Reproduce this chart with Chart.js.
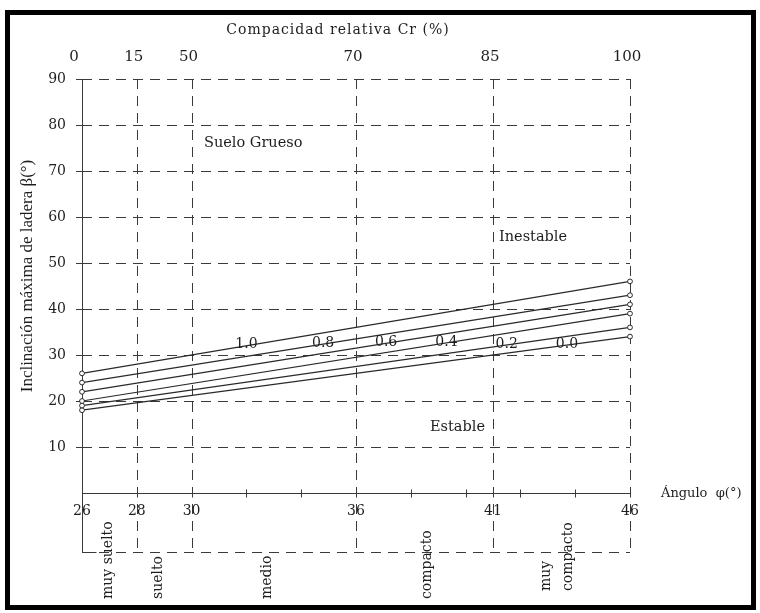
<!DOCTYPE html>
<html>
<head>
<meta charset="utf-8">
<script src="https://cdn.jsdelivr.net/npm/chart.js@4/dist/chart.umd.min.js"></script>
<style>
  body { margin: 0; background: #fff; }
  canvas { display: block; }
</style>
</head>
<body>
<canvas id="laderaChart" width="760" height="613"></canvas>
<script>
// friction angle phi (deg) on the x axis, slope beta (deg) on the y axis
const phiMin = 26;
const phiMax = 46;
const betaMin = 0;
const betaMax = 90;

// one line per relative density label, beta read at phi = 26 and phi = 46
const densityLabels = ["1.0", "0.8", "0.6", "0.4", "0.2", "0.0"];
const betaAt26 = [26, 24, 22, 20, 19, 18];
const betaAt46 = [46, 43, 41, 39, 36, 34];
const labelPhi = [32, 34.8, 37.1, 39.3, 41.5, 43.7];

// axis ticks
const phiTicks = [26, 28, 30, 36, 41, 46];
const phiMinorTicks = [32, 34, 38, 40, 42, 44];
const crTicks = ["0", "15", "50", "70", "85", "100"];
const betaTicks = [10, 20, 30, 40, 50, 60, 70, 80, 90];

// soil state bands under the phi axis
const stateNames = [["muy suelto"], ["suelto"], ["medio"], ["compacto"], ["muy", "compacto"]];
const statePhi = [26.95, 28.8, 32.75, 38.6, 43.35];

const FONT = "DejaVu Serif";
const INK = "#1e1e1e";

const datasets = densityLabels.map((lbl, i) => ({
  label: lbl,
  data: [{ x: phiMin, y: betaAt26[i] }, { x: phiMax, y: betaAt46[i] }],
  borderColor: "#2a2a2a",
  borderWidth: 1.2,
  pointRadius: 2.4,
  pointBackgroundColor: "#fff",
  pointBorderColor: "#2a2a2a",
  pointBorderWidth: 1,
  clip: false
}));

function dashedLine(ctx, x1, y1, x2, y2) {
  ctx.save();
  ctx.setLineDash([10, 7]);
  ctx.beginPath();
  ctx.moveTo(x1, y1);
  ctx.lineTo(x2, y2);
  ctx.stroke();
  ctx.restore();
}

const frameAndAxes = {
  id: "frameAndAxes",
  beforeDraw(chart) {
    const ctx = chart.ctx;
    ctx.save();
    ctx.fillStyle = "#fff";
    ctx.fillRect(0, 0, chart.width, chart.height);
    ctx.restore();
  },
  beforeDatasetsDraw(chart) {
    const { ctx, scales: { x, y } } = chart;
    const left = x.getPixelForValue(phiMin);
    const right = x.getPixelForValue(phiMax);
    const top = y.getPixelForValue(betaMax);
    const bottom = y.getPixelForValue(betaMin);
    const bandBottom = bottom + 59;

    ctx.save();
    ctx.strokeStyle = "#3a3a3a";
    ctx.lineWidth = 1;

    // horizontal dashed grid
    betaTicks.forEach(v => {
      const py = Math.round(y.getPixelForValue(v)) + 0.5;
      dashedLine(ctx, left, py, right, py);
    });
    dashedLine(ctx, left, bandBottom + 0.5, right, bandBottom + 0.5);

    // vertical dashed lines through the state bands
    phiTicks.slice(1).forEach(v => {
      const px = Math.round(x.getPixelForValue(v)) + 0.5;
      dashedLine(ctx, px, top, px, bandBottom);
    });

    // solid axes
    ctx.beginPath();
    const lx = Math.round(left) + 0.5;
    ctx.moveTo(lx, top);
    ctx.lineTo(lx, bandBottom + 0.5);
    ctx.lineTo(lx + 14, bandBottom + 0.5);
    const by = Math.round(bottom) + 0.5;
    ctx.moveTo(left, by);
    ctx.lineTo(right, by);
    ctx.stroke();

    // y tick marks
    ctx.beginPath();
    betaTicks.forEach(v => {
      const py = Math.round(y.getPixelForValue(v)) + 0.5;
      ctx.moveTo(left - 6, py);
      ctx.lineTo(left + 6, py);
    });
    // x tick marks
    phiTicks.concat(phiMinorTicks).forEach(v => {
      const px = Math.round(x.getPixelForValue(v)) + 0.5;
      ctx.moveTo(px, by - 4);
      ctx.lineTo(px, by + 4);
    });
    ctx.stroke();
    ctx.restore();

    // tick labels
    ctx.save();
    ctx.fillStyle = INK;
    ctx.font = "14px '" + FONT + "'";
    ctx.textAlign = "right";
    ctx.textBaseline = "middle";
    betaTicks.forEach(v => ctx.fillText(String(v), left - 16, y.getPixelForValue(v)));

    ctx.textAlign = "center";
    phiTicks.forEach(v => ctx.fillText(String(v), x.getPixelForValue(v), by + 18));
    ctx.font = "15px '" + FONT + "'";
    crTicks.forEach((t, i) => {
      const off = i === 0 ? -8 : -3;
      ctx.fillText(t, x.getPixelForValue(phiTicks[i]) + off, 57);
    });
    ctx.font = "14px '" + FONT + "'";
    ctx.letterSpacing = "1px";
    ctx.fillText("Compacidad relativa Cr (%)", 338, 30);
    ctx.letterSpacing = "0px";

    ctx.textAlign = "left";
    ctx.font = "13px '" + FONT + "'";
    ctx.fillText("Ángulo  φ(°)", 661, by);

    // y axis title
    ctx.save();
    ctx.translate(28, 276);
    ctx.rotate(-Math.PI / 2);
    ctx.textAlign = "center";
    ctx.font = "17px 'Liberation Serif'";
    ctx.fillText("Inclinación máxima de ladera β(°)", 0, 0, 244);
    ctx.restore();

    // soil state names, read bottom to top
    ctx.font = "14px '" + FONT + "'";
    stateNames.forEach((lines, i) => {
      const px = x.getPixelForValue(statePhi[i]);
      ctx.save();
      ctx.translate(px, lines.length > 1 ? 591 : 599);
      ctx.rotate(-Math.PI / 2);
      ctx.textAlign = "left";
      ctx.textBaseline = "middle";
      lines.forEach((ln, k) => {
        const dy = (k - (lines.length - 1) / 2) * 22;
        ctx.fillText(ln, 0, dy);
      });
      ctx.restore();
    });

    // region notes
    ctx.font = "14.5px '" + FONT + "'";
    ctx.textAlign = "left";
    ctx.fillText("Suelo Grueso", 204, 143);
    ctx.fillText("Inestable", 499, 237);
    ctx.fillText("Estable", 430, 427);
    ctx.restore();

    // outer frame
    ctx.save();
    ctx.strokeStyle = "#000";
    ctx.lineWidth = 5;
    ctx.strokeRect(7.5, 12.5, 746, 595);
    ctx.restore();
  },
  afterDatasetsDraw(chart) {
    const { ctx, scales: { x, y } } = chart;
    ctx.save();
    ctx.fillStyle = INK;
    ctx.font = "14px '" + FONT + "'";
    ctx.textAlign = "center";
    ctx.textBaseline = "middle";
    densityLabels.forEach((lbl, i) => {
      const t = (labelPhi[i] - phiMin) / (phiMax - phiMin);
      const b = betaAt26[i] + t * (betaAt46[i] - betaAt26[i]);
      ctx.fillText(lbl, x.getPixelForValue(labelPhi[i]), y.getPixelForValue(b) - 1);
    });
    ctx.restore();
  }
};

new Chart("laderaChart", {
  type: "line",
  data: { datasets: datasets },
  options: {
    responsive: false,
    animation: false,
    layout: { padding: { left: 82, right: 130, top: 79, bottom: 120 } },
    scales: {
      x: { type: "linear", min: phiMin, max: phiMax, display: false },
      y: { type: "linear", min: betaMin, max: betaMax, display: false }
    },
    plugins: {
      legend: { display: false },
      tooltip: { enabled: false }
    }
  },
  plugins: [frameAndAxes]
});
</script>
</body>
</html>
